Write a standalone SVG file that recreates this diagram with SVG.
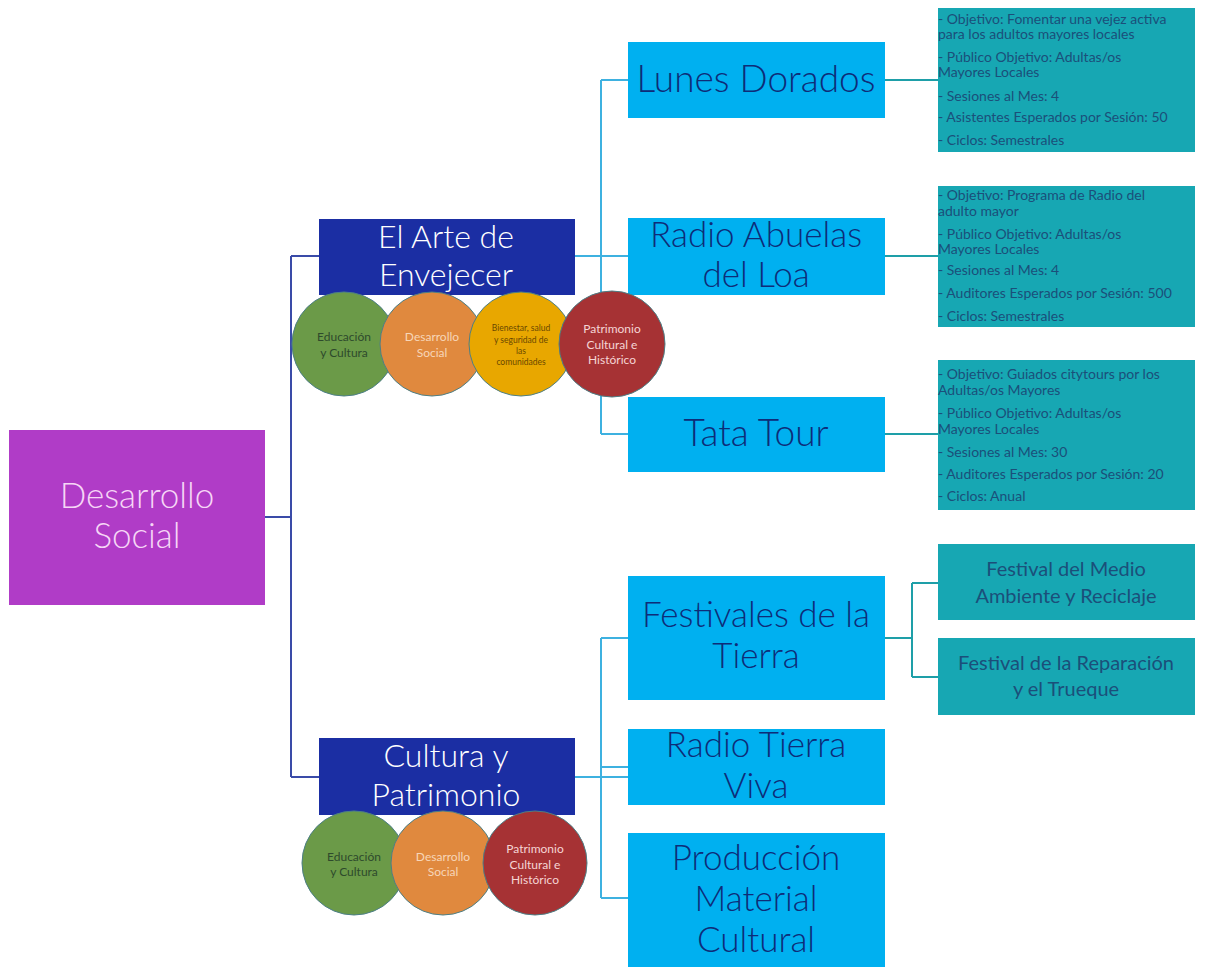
<svg xmlns="http://www.w3.org/2000/svg" width="1212" height="967" viewBox="0 0 1212 967">
<style>
text{font-family:Lato,"Open Sans","Liberation Sans",sans-serif;text-anchor:middle;font-weight:300}
.root{fill:#B03CC7}
.cat{fill:#1B2EA3}
.prog{fill:#00B0F0}
.det{fill:#17A7B3}
.t-root{fill:#F6D6F6;font-size:35px}
.t-cat{fill:#FFFFFF;font-size:32px}
.t-prog{fill:#0E2C78;font-size:35px}
.t-big{font-size:37px}
.t-det{fill:#1B4F7A;font-size:14px;text-anchor:start;font-weight:400}
.t-fest{fill:#1B4F7A;font-size:20px;font-weight:400}
.c{stroke:#4C7F86;stroke-width:1}
.c-g{fill:#6B9A48}
.c-o{fill:#E0893E}
.c-y{fill:#E8A700}
.c-r{fill:#A63234}
.tc{font-size:12px;font-weight:400}
.tc-g{fill:#2E4A2C}
.tc-o{fill:#F7D6B8}
.tc-y{fill:#6A4800;font-size:8.5px;font-weight:400}
.tc-r{fill:#F5D5D5}
.l1{fill:none;stroke:#3A4BA8;stroke-width:2}
.l2{fill:none;stroke:#3EB1E0;stroke-width:2}
.l3{fill:none;stroke:#1E9FA8;stroke-width:2}
</style>
<rect width="1212" height="967" fill="#FFFFFF"/>
<g id="connectors">
<path class="l1" d="M265 517H291M291 256V777M291 256H319M291 777H319"/>
<path class="l2" d="M575 256H628M601 80V434M601 80H628M601 434H628"/>
<path class="l2" d="M575 777H628M601 638V898M601 638H628M601 767H628M601 898H628"/>
<path class="l3" d="M885 80H938M885 256H938M885 434H938"/>
<path class="l3" d="M885 638H912M912 583V677M912 583H938M912 677H938"/>
</g>
<g id="root">
<rect class="root" x="9" y="430" width="256" height="175"/>
<text class="t-root" x="137" y="508">Desarrollo</text>
<text class="t-root" x="137" y="548">Social</text>
</g>
<g id="lunes">
<rect class="prog" x="628" y="42" width="257" height="76"/>
<text class="t-prog t-big" x="756" y="92">Lunes Dorados</text>
</g>
<g id="radio-abuelas">
<rect class="prog" x="628" y="218" width="257" height="77"/>
<text class="t-prog" x="756" y="247">Radio Abuelas</text>
<text class="t-prog" x="756" y="287">del Loa</text>
</g>
<g id="tata">
<rect class="prog" x="628" y="397" width="257" height="75"/>
<text class="t-prog t-big" x="756" y="446">Tata Tour</text>
</g>
<g id="festivales">
<rect class="prog" x="628" y="576" width="257" height="124"/>
<text class="t-prog" x="756" y="627">Festivales de la</text>
<text class="t-prog" x="756" y="668">Tierra</text>
</g>
<g id="radio-tierra">
<rect class="prog" x="628" y="729" width="257" height="76"/>
<text class="t-prog" x="756" y="757">Radio Tierra</text>
<text class="t-prog" x="756" y="798">Viva</text>
</g>
<g id="produccion">
<rect class="prog" x="628" y="833" width="257" height="134"/>
<text class="t-prog" x="756" y="870">Producción</text>
<text class="t-prog" x="756" y="911">Material</text>
<text class="t-prog" x="756" y="952">Cultural</text>
</g>
<g id="det-lunes">
<rect class="det" x="938" y="8" width="257" height="144"/>
<text class="t-det" x="938" y="24">- Objetivo: Fomentar una vejez activa</text>
<text class="t-det" x="938" y="39">para los adultos mayores locales</text>
<text class="t-det" x="938" y="62">- Público Objetivo: Adultas/os</text>
<text class="t-det" x="938" y="77">Mayores Locales</text>
<text class="t-det" x="938" y="101">- Sesiones al Mes: 4</text>
<text class="t-det" x="938" y="122">- Asistentes Esperados por Sesión: 50</text>
<text class="t-det" x="938" y="145">- Ciclos: Semestrales</text>
</g>
<g id="det-radio">
<rect class="det" x="938" y="186" width="257" height="141"/>
<text class="t-det" x="938" y="200">- Objetivo: Programa de Radio del</text>
<text class="t-det" x="938" y="216">adulto mayor</text>
<text class="t-det" x="938" y="239">- Público Objetivo: Adultas/os</text>
<text class="t-det" x="938" y="254">Mayores Locales</text>
<text class="t-det" x="938" y="275">- Sesiones al Mes: 4</text>
<text class="t-det" x="938" y="298">- Auditores Esperados por Sesión: 500</text>
<text class="t-det" x="938" y="321">- Ciclos: Semestrales</text>
</g>
<g id="det-tata">
<rect class="det" x="938" y="360" width="257" height="150"/>
<text class="t-det" x="938" y="379">- Objetivo: Guiados citytours por los</text>
<text class="t-det" x="938" y="395">Adultas/os Mayores</text>
<text class="t-det" x="938" y="418">- Público Objetivo: Adultas/os</text>
<text class="t-det" x="938" y="434">Mayores Locales</text>
<text class="t-det" x="938" y="457">- Sesiones al Mes: 30</text>
<text class="t-det" x="938" y="479">- Auditores Esperados por Sesión: 20</text>
<text class="t-det" x="938" y="501">- Ciclos: Anual</text>
</g>
<g id="fest-medio">
<rect class="det" x="938" y="544" width="257" height="76"/>
<text class="t-fest" x="1066" y="576">Festival del Medio</text>
<text class="t-fest" x="1066" y="603">Ambiente y Reciclaje</text>
</g>
<g id="fest-reparacion">
<rect class="det" x="938" y="638" width="257" height="77"/>
<text class="t-fest" x="1066" y="670">Festival de la Reparación</text>
<text class="t-fest" x="1066" y="696">y el Trueque</text>
</g>
<g id="arte">
<rect class="cat" x="319" y="219" width="256" height="76"/>
<text class="t-cat" x="446" y="248">El Arte de</text>
<text class="t-cat" x="446" y="286">Envejecer</text>
</g>
<g id="arte-tags">
<circle class="c c-g" cx="344" cy="344" r="52"/>
<text class="tc tc-g" x="344" y="341">Educación</text>
<text class="tc tc-g" x="344" y="357">y Cultura</text>
<circle class="c c-o" cx="432" cy="344" r="52"/>
<text class="tc tc-o" x="432" y="341">Desarrollo</text>
<text class="tc tc-o" x="432" y="357">Social</text>
<circle class="c c-y" cx="521" cy="344" r="52"/>
<text class="tc-y" x="521" y="331">Bienestar, salud</text>
<text class="tc-y" x="521" y="343">y seguridad de</text>
<text class="tc-y" x="521" y="354">las</text>
<text class="tc-y" x="521" y="365">comunidades</text>
<circle class="c c-r" cx="612" cy="344" r="53"/>
<text class="tc tc-r" x="612" y="333">Patrimonio</text>
<text class="tc tc-r" x="612" y="349">Cultural e</text>
<text class="tc tc-r" x="612" y="364">Histórico</text>
</g>
<g id="cultura">
<rect class="cat" x="319" y="738" width="256" height="77"/>
<text class="t-cat" x="446" y="767">Cultura y</text>
<text class="t-cat" x="446" y="806">Patrimonio</text>
</g>
<g id="cultura-tags">
<circle class="c c-g" cx="354" cy="863" r="52"/>
<text class="tc tc-g" x="354" y="861">Educación</text>
<text class="tc tc-g" x="354" y="876">y Cultura</text>
<circle class="c c-o" cx="443" cy="863" r="52"/>
<text class="tc tc-o" x="443" y="861">Desarrollo</text>
<text class="tc tc-o" x="443" y="876">Social</text>
<circle class="c c-r" cx="535" cy="863" r="52"/>
<text class="tc tc-r" x="535" y="853">Patrimonio</text>
<text class="tc tc-r" x="535" y="869">Cultural e</text>
<text class="tc tc-r" x="535" y="884">Histórico</text>
</g>
</svg>
